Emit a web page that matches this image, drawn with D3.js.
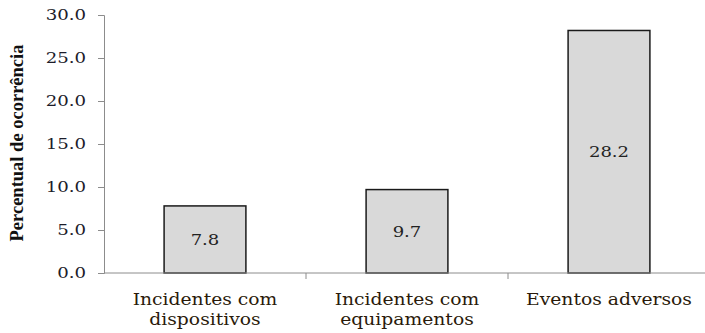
<!DOCTYPE html>
<html>
<head>
<meta charset="utf-8">
<script src="https://cdn.jsdelivr.net/npm/d3@7.9.0/dist/d3.min.js"></script>
<style>
  html, body { margin: 0; padding: 0; background: #fff; overflow: hidden; }
  svg { display: block; }
</style>
</head>
<body>
<div id="chart"></div>
<script>
const categories = [["Incidentes com", "dispositivos"], ["Incidentes com", "equipamentos"], ["Eventos adversos"]];
const values = [7.8, 9.7, 28.2];
const yTicks = [0, 5, 10, 15, 20, 25, 30];

const width = 705, height = 333;
const margin = { top: 15, right: 0, bottom: 60, left: 104 };
const innerWidth = width - margin.left - margin.right;
const innerHeight = height - margin.top - margin.bottom;

const svg = d3.select("#chart").append("svg")
    .attr("width", width)
    .attr("height", height);

const chart = svg.append("g")
    .attr("transform", "translate(" + margin.left + "," + margin.top + ")");

// the source text is drawn a bit wide, so stretch it along its length
function widen(sel, factor) {
    sel.each(function () {
        const len = this.getComputedTextLength();
        d3.select(this)
            .attr("textLength", len * factor)
            .attr("lengthAdjust", "spacingAndGlyphs");
    });
}

const keys = categories.map(d => d.join(" "));
const xScale = d3.scaleBand()
    .domain(keys)
    .range([0, 606])
    .paddingInner(0.595)
    .paddingOuter(0.2975);

const yScale = d3.scaleLinear()
    .domain([0, 30])
    .range([innerHeight, 0]);

// bars
chart.selectAll("rect.bar")
    .data(values)
    .join("rect")
    .attr("class", "bar")
    .attr("x", (_, i) => xScale(keys[i]))
    .attr("y", d => yScale(d))
    .attr("width", xScale.bandwidth())
    .attr("height", d => innerHeight - yScale(d))
    .attr("fill", "#d9d9d9")
    .attr("stroke", "#1a1a1a")
    .attr("stroke-width", 1.5);

chart.selectAll(".bar-label")
    .data(values)
    .join("text")
    .attr("class", "bar-label")
    .attr("x", (_, i) => xScale(keys[i]) + xScale.bandwidth() / 2)
    .attr("y", d => (yScale(d) + innerHeight) / 2)
    .attr("dy", "0.35em")
    .attr("text-anchor", "middle")
    .attr("fill", "#222")
    .style("font-family", "'DejaVu Serif', serif")
    .style("font-size", "15px")
    .text(d => d.toFixed(1))
    .call(widen, 1.2);

// y axis
const yAxis = chart.append("g")
    .call(d3.axisLeft(yScale).tickValues(yTicks).tickFormat("").tickSize(6).tickSizeOuter(6));
yAxis.select(".domain").attr("stroke", "#8c8c8c");
yAxis.selectAll(".tick line").attr("stroke", "#8c8c8c");
yAxis.selectAll(".tick text").remove();

chart.selectAll(".y-label")
    .data(yTicks)
    .join("text")
    .attr("class", "y-label")
    .attr("x", -18)
    .attr("y", d => yScale(d))
    .attr("dy", "0.35em")
    .attr("text-anchor", "end")
    .attr("fill", "#1c1c2a")
    .style("font-family", "'DejaVu Serif', serif")
    .style("font-size", "14.5px")
    .text(d3.format(".1f"))
    .call(widen, 1.25);

// x axis
const band = xScale.step();
const xAxis = chart.append("g")
    .attr("transform", "translate(0," + innerHeight + ")");
xAxis.append("line")
    .attr("x1", 0).attr("x2", innerWidth)
    .attr("stroke", "#8c8c8c");
xAxis.selectAll("line.sep")
    .data(keys.slice(1))
    .join("line")
    .attr("class", "sep")
    .attr("x1", d => xScale(d) + xScale.bandwidth() / 2 - band / 2)
    .attr("x2", d => xScale(d) + xScale.bandwidth() / 2 - band / 2)
    .attr("y1", 0).attr("y2", 6)
    .attr("stroke", "#8c8c8c");

xAxis.selectAll("g.cat")
    .data(categories)
    .join("g")
    .attr("class", "cat")
    .each(function (lines, i) {
        const cx = xScale(keys[i]) + xScale.bandwidth() / 2;
        d3.select(this).selectAll("text")
            .data(lines)
            .join("text")
            .attr("x", cx)
            .attr("y", (_, j) => 32 + j * 20)
            .attr("text-anchor", "middle")
            .attr("fill", "#2a1a0a")
            .style("font-family", "'DejaVu Serif', serif")
            .style("font-size", "16px")
            .text(d => d)
            .call(widen, 1.17);
    });

// y title
svg.append("text")
    .attr("transform", "translate(23," + (margin.top + innerHeight / 2 - 1) + ") rotate(-90)")
    .attr("text-anchor", "middle")
    .attr("fill", "#111")
    .style("font-family", "'Liberation Serif', serif")
    .style("font-weight", "bold")
    .style("font-size", "18.5px")
    .text("Percentual de ocorrência");
</script>
</body>
</html>
